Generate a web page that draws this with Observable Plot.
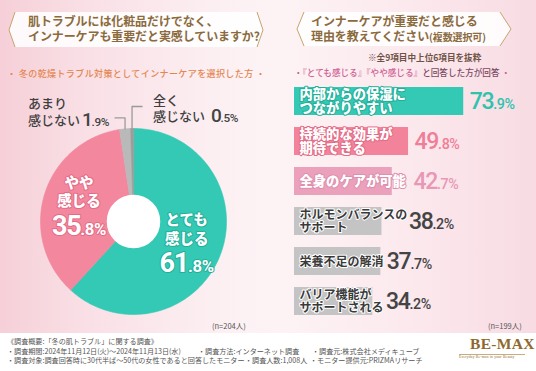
<!DOCTYPE html>
<html><head><meta charset="utf-8">
<script src="https://cdn.jsdelivr.net/npm/d3@7"></script>
<script src="https://cdn.jsdelivr.net/npm/@observablehq/plot@0.6"></script>
<style>
html,body{margin:0;padding:0;}
body{width:536px;height:371px;overflow:hidden;position:relative;
 font-family:"Noto Sans CJK JP","Noto Sans",sans-serif;
 background:linear-gradient(90deg,#f6cfd8 0%,#f9dfe5 15%,#fcf0f3 42%,#fdf3f5 52%,#fbe8ed 78%,#f8dbe3 100%);}
.abs{position:absolute;white-space:nowrap;}
.title{color:#8b6b3d;font-weight:700;font-size:12px;line-height:14.5px;letter-spacing:-0.1px;}
.footer{position:absolute;left:0;top:333px;width:536px;height:38px;background:#fff;}
.ft{position:absolute;font-size:7.1px;color:#555;white-space:nowrap;line-height:9px;}
svg.plot{position:absolute;overflow:visible;background:transparent;}
</style></head>
<body>
<svg class="abs" width="536" height="371" style="left:0;top:0">
  <polygon points="15,12 257,12 263,30 257,47 15,47 9,30" fill="#ffffff" fill-opacity="0.88"/>
  <polyline points="15,12 9,30 15,47" fill="none" stroke="#c6a56e" stroke-width="1"/>
  <polyline points="257,12 263,30 257,47" fill="none" stroke="#c6a56e" stroke-width="1"/>
  <polygon points="304,12 500,12 511,29 500,46 304,46 297,29" fill="#ffffff" fill-opacity="0.88"/>
  <polyline points="304,12 297,29 304,46" fill="none" stroke="#c6a56e" stroke-width="1"/>
  <polyline points="500,12 511,29 500,46" fill="none" stroke="#c6a56e" stroke-width="1"/>
</svg>
<div class="abs title" style="left:28px;top:14px">肌トラブルには化粧品だけでなく、<br>インナーケアも重要だと実感していますか?</div>
<div class="abs title" style="left:311px;top:14px">インナーケアが重要だと感じる<br>理由を教えてください<span style="font-size:10px">(複数選択可)</span></div>
<div class="abs" style="left:7px;top:67px;width:250px;text-align:center;font-size:9px;color:#e5864f;font-weight:500;letter-spacing:0.4px">・ 冬の乾燥トラブル対策としてインナーケアを選択した方 ・</div>
<div class="abs" style="left:368px;top:51px;font-size:8.6px;color:#6e5246;font-weight:700">※全9項目中上位6項目を抜粋</div>
<div class="abs" style="left:289px;top:66px;width:226px;text-align:center;font-size:8.6px;font-weight:500;color:#cf5f93">・『とても感じる』『やや感じる』<span style="color:#7d4a62">と回答した方が回答</span> ・</div>
<div id="nLeft" class="abs" style="left:212px;top:320px;font-size:7.5px;color:#555"></div>
<div id="nRight" class="abs" style="left:488px;top:320px;font-size:7.5px;color:#555"></div>
<div id="donut"></div>
<div id="bars"></div>
<div class="footer">
  <div class="ft" style="left:7px;top:4px">《調査概要:「冬の肌トラブル」に関する調査》</div>
  <div class="ft" style="left:7px;top:14px">・調査期間:2024年11月12日(火)～2024年11月13日(水)</div>
  <div class="ft" style="left:198px;top:14px">・調査方法:インターネット調査</div>
  <div class="ft" style="left:312px;top:14px">・調査元:株式会社メディキューブ</div>
  <div class="ft" style="left:7px;top:23px">・調査対象:調査回答時に30代半ば～50代の女性であると回答したモニター</div>
  <div class="ft" style="left:245px;top:23px">・調査人数:1,008人</div>
  <div class="ft" style="left:310px;top:23px">・モニター提供元:PRIZMAリサーチ</div>
  <div class="abs" style="left:470px;top:2px;font-family:'Liberation Serif','DejaVu Serif',serif;font-weight:700;font-size:15.5px;color:#8e6a2e;letter-spacing:0.3px">BE-MAX</div>
  <div class="abs" style="left:459px;top:21px;width:66px;border-top:0.8px solid #c9ad7a"></div>
  <div class="abs" style="left:459px;top:22px;font-family:'Liberation Serif',serif;font-size:3.8px;color:#8e6a2e;letter-spacing:0.15px">Everyday Be-max in your Beauty</div>
</div>
<script>
// ---------------- DATA ----------------
const donutCategories = ["とても感じる", "やや感じる", "あまり感じない", "全く感じない"];
const donutLabels = ["とても\n感じる", "やや\n感じる", "あまり\n感じない", "全く\n感じない"];
const donutValues = [61.8, 35.8, 1.9, 0.5];
const donutN = "(n=204人)";

const reasonLabels = ["内部からの保湿に\nつながりやすい", "持続的な効果が\n期待できる", "全身のケアが可能",
  "ホルモンバランスの\nサポート", "栄養不足の解消", "バリア機能が\nサポートされる"];
const reasonValues = [73.9, 49.8, 42.7, 38.2, 37.7, 34.2];
const reasonN = "(n=199人)";

// ---------------- STYLES ----------------
const donutColors = ["#34c9b4", "#f2879d", "#b9b9b9", "#9c9c9c"];
const donutEdge = ["#22ae99", "#e36b86", "#999", "#999"];
const reasonColors = ["#34c9b4", "#f2839a", "#eba0bb", "#c4c4c4", "#c4c4c4", "#c4c4c4"];
const reasonEdge = ["#22ae99", "#e36b86", "#de8fad", null, null, null];
const reasonValueColors = ["#2ec3ad", "#ef7f98", "#e897b4", "#444", "#444", "#444"];
const JP = "Noto Sans CJK JP";
const NUM = "Roboto";

const fmt = v => v.toFixed(1) + "%";
document.getElementById("nLeft").textContent = donutN;
document.getElementById("nRight").textContent = reasonN;

// ---------------- DONUT ----------------
const L = {left: 0, top: 85, w: 268, h: 245, cx: 133, cy: 136, R: 93, r: 26, labelR: 57};
const pie = d3.pie().sort(null).value(d => d)(donutValues);
const slices = [];
pie.forEach((p, i) => {
  const n = Math.max(3, Math.ceil((p.endAngle - p.startAngle) / 0.02));
  const pts = [[0, 0]];
  for (let k = 0; k <= n; k++) {
    const a = p.startAngle + (p.endAngle - p.startAngle) * k / n;
    pts.push([Math.sin(a), Math.cos(a)]);
  }
  pts.forEach(([x, y]) => slices.push({cat: donutCategories[i], x, y}));
});
const mid = i => (pie[i].startAngle + pie[i].endAngle) / 2;
const inside = donutValues.map((v, i) => i).filter(i => donutValues[i] >= 10);
const outside = donutValues.map((v, i) => i).filter(i => donutValues[i] < 10);
const lr = L.labelR / L.R;
const insideRows = inside.map(i => ({i, label: donutLabels[i], value: fmt(donutValues[i]),
  x: lr * Math.sin(mid(i)), y: lr * Math.cos(mid(i))}));
// leader layout (pixels): rise above slice edge, horizontal run
const leaderLayout = {2: {rise: 11, run: -10, cdx: -87, cdy: -6.5, vdx: -6, vdy: 2, vanchor: "end"},
                      3: {rise: 22, run: 10, cdx: 11, cdy: 1, vdx: 69, vdy: 9, vanchor: "start"}};
const leaderPts = [], outsideRows = [];
outside.forEach(i => {
  const lay = leaderLayout[i];
  const x0 = Math.sin(mid(i)), y0 = Math.cos(mid(i));
  const y1 = y0 + lay.rise / L.R, x2 = x0 + lay.run / L.R;
  leaderPts.push({i, x: x0, y: y0}, {i, x: x0, y: y1}, {i, x: x2, y: y1});
  outsideRows.push({i, x: x2, y: y1, label: donutLabels[i], value: fmt(donutValues[i]), lay});
});

const donutMarks = [
  Plot.line(slices, {x: "x", y: "y", z: "cat", fill: "cat", stroke: "cat", strokeWidth: 0.6, curve: "linear-closed"}),
  Plot.dot([{x: 0, y: 0}], {x: "x", y: "y", r: L.r, fill: "white", stroke: "white"}),
  Plot.line(leaderPts, {x: "x", y: "y", z: "i", stroke: "#9a9a9a", strokeWidth: 1.3})
];
insideRows.forEach(d => {
  donutMarks.push(Plot.text([d], {x: "x", y: "y", text: "label", dy: -14, lineAnchor: "middle", lineHeight: 1.3,
    fontFamily: JP, fontSize: 14.5, fontWeight: 900, fill: "white", stroke: donutEdge[d.i], strokeWidth: 2, paintOrder: "stroke"}));
  donutMarks.push(Plot.text([d], {x: "x", y: "y", text: "value", dy: 21, lineAnchor: "middle",
    fontFamily: NUM, fontSize: 27, fontWeight: 700, fill: "white", stroke: donutEdge[d.i], strokeWidth: 2, paintOrder: "stroke"}));
});
outsideRows.forEach(d => {
  donutMarks.push(Plot.text([d], {x: "x", y: "y", text: "label", dx: d.lay.cdx, dy: d.lay.cdy, textAnchor: "start",
    lineAnchor: "middle", lineHeight: 1.28, fontFamily: JP, fontSize: 13, fontWeight: 500, fill: "#3f3f3f"}));
  donutMarks.push(Plot.text([d], {x: "x", y: "y", text: "value", dx: d.lay.vdx, dy: d.lay.vdy, textAnchor: d.lay.vanchor,
    lineAnchor: "middle", fontFamily: NUM, fontSize: 19, fontWeight: 500, fill: "#444"}));
});

const donut = Plot.plot({
  width: L.w, height: L.h, margin: 0,
  x: {domain: [-L.cx / L.R, (L.w - L.cx) / L.R], axis: null},
  y: {domain: [-(L.h - L.cy) / L.R, L.cy / L.R], axis: null},
  color: {domain: donutCategories, range: donutColors},
  style: {background: "transparent", overflow: "visible"},
  marks: donutMarks
});
donut.style.left = L.left + "px"; donut.style.top = L.top + "px"; donut.style.position = "absolute";
document.getElementById("donut").appendChild(donut);

// ---------------- BARS ----------------
const B = {left: 266, top: 80, w: 270, h: 241, ml: 28, mr: 13, pad: 5, gap: 6};
const pxPerUnit = (B.w - B.ml - B.mr) / 100;
const lightText = reasonEdge.map(e => e !== null);
const labelSize = i => lightText[i] ? 13.3 : 12;
const labelSpacing = i => lightText[i] ? 0.2 : -0.5;
const rows = reasonLabels.map((label, i) => {
  const longest = d3.max(label.split("\n"), s => s.length);
  const labelPx = B.pad + longest * (labelSize(i) + labelSpacing(i));
  return {i, label, value: reasonValues[i], text: fmt(reasonValues[i]),
          anchor: Math.max(reasonValues[i], labelPx / pxPerUnit)};
});
const barMarks = [
  Plot.barX(rows, {x: "value", y: "label", fill: "label"})
];
rows.forEach(d => {
  const i = d.i;
  barMarks.push(Plot.text([d], {x: () => 0, y: "label", text: "label", dx: B.pad, textAnchor: "start", lineAnchor: "middle",
    lineHeight: lightText[i] ? 1.04 : 1.08, fontFamily: JP, fontSize: labelSize(i), fontWeight: lightText[i] ? 900 : 700,
    letterSpacing: labelSpacing(i),
    fill: lightText[i] ? "white" : "#3a3a3a",
    stroke: lightText[i] ? reasonEdge[i] : "white", strokeWidth: 2,
    paintOrder: "stroke"}));
  barMarks.push(Plot.text([d], {x: "anchor", y: "label", text: "text", dx: B.gap, textAnchor: "start", lineAnchor: "middle",
    fontFamily: NUM, fontSize: 23, fontWeight: 500, fill: reasonValueColors[i]}));
});
const bars = Plot.plot({
  width: B.w, height: B.h, marginLeft: B.ml, marginRight: B.mr, marginTop: 0, marginBottom: 0,
  x: {domain: [0, 100], axis: null},
  y: {domain: reasonLabels, axis: null, paddingInner: 0.31, paddingOuter: 0.155},
  color: {domain: reasonLabels, range: reasonColors},
  style: {background: "transparent", overflow: "visible"},
  marks: barMarks
});
bars.style.left = B.left + "px"; bars.style.top = B.top + "px"; bars.style.position = "absolute";
document.getElementById("bars").appendChild(bars);

// split numbers: larger integer part, smaller decimals
[donut, bars].forEach(svg => {
  d3.select(svg).selectAll("text").each(function() {
    if (this.childElementCount) return;
    const m = (this.textContent || "").match(/^(\d+)(\.\d%)$/);
    if (!m) return;
    this.textContent = m[1];
    this.setAttribute("letter-spacing", "-1.3");
    const ts = document.createElementNS("http://www.w3.org/2000/svg", "tspan");
    ts.textContent = m[2];
    ts.style.fontSize = "62%";
    ts.setAttribute("letter-spacing", "-0.4");
    this.appendChild(ts);
  });
});
</script>
</body></html>
